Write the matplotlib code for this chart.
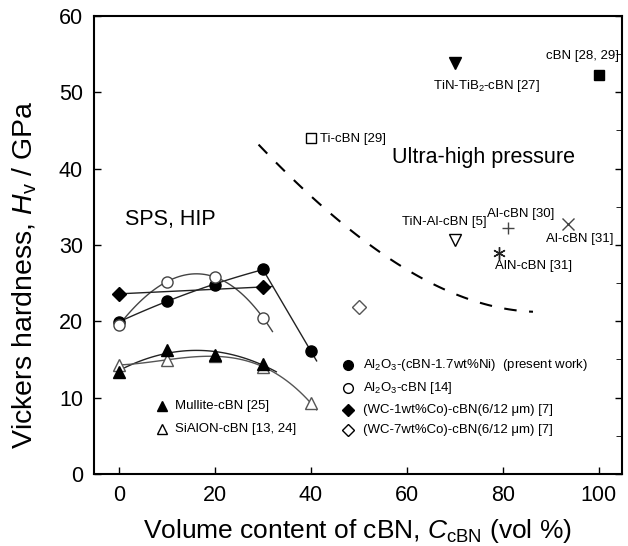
import numpy as np
import matplotlib
matplotlib.use('Agg')
import matplotlib.pyplot as plt

plt.rcParams['font.family'] = ['Liberation Sans', 'DejaVu Sans']
plt.rcParams['mathtext.fontset'] = 'custom'
plt.rcParams['mathtext.rm'] = 'Liberation Sans'
plt.rcParams['mathtext.it'] = 'Liberation Sans:italic'

# SPS / HIP series (vol% cBN, Hv GPa)
x_ni = [0, 10, 20, 30, 40]
y_ni = [19.9, 22.7, 24.8, 26.8, 16.1]
x_al = [0, 10, 20, 30]
y_al = [19.5, 25.2, 25.8, 20.5]
x_wc1 = [0, 30]
y_wc1 = [23.6, 24.5]
x_wc7 = [50]
y_wc7 = [21.9]
x_mul = [0, 10, 20, 30]
y_mul = [13.4, 16.25, 15.6, 14.4]
x_sia = [0, 10, 20, 30, 40]
y_sia = [14.3, 14.9, 15.5, 14.0, 9.3]

# ultra-high pressure points
uhp_names = ['TiN-TiB2', 'cBN', 'Ti-cBN', 'TiN-Al', 'Al30', 'Al31', 'AlN']
uhp_x = [70, 100, 40, 70, 81, 93.6, 79.2]
uhp_y = [53.8, 52.3, 44.0, 30.6, 32.2, 32.7, 29.0]

# boundary (dashed)
bnd_x = [29.1, 38.7, 47.9, 57.9, 69.6, 77.9, 86.3]
bnd_y = [43.1, 37.3, 32.1, 27.5, 23.7, 22.1, 21.2]

fig = plt.figure(figsize=(6.28, 5.46), dpi=100)
ax = fig.add_axes([0.1497, 0.1319, 0.8403, 0.8388])

ms = 8
# fitted curves
xx = np.linspace(0, 30, 60)
ax.plot(xx, np.polyval(np.polyfit(x_ni[:4], y_ni[:4], 2), xx), color='#222', lw=1)
p = np.polyfit(x_ni[3:], y_ni[3:], 1)
xx = np.linspace(30, 41.2, 10)
ax.plot(xx, np.polyval(p, xx), color='#222', lw=1)
xx = np.linspace(0, 32, 60)
ax.plot(xx, np.polyval(np.polyfit(x_al, y_al, 3), xx), color='#444', lw=1)
ax.plot(xx, np.polyval(np.polyfit(x_wc1, y_wc1, 1), xx), color='#222', lw=1)
xx = np.linspace(0, 32.8, 60)
ax.plot(xx, np.polyval(np.polyfit(x_mul, y_mul, 2), xx), color='#222', lw=1)
xx = np.linspace(0, 41.2, 60)
ax.plot(xx, np.polyval(np.polyfit(x_sia, y_sia, 3), xx), color='#555', lw=1)
xx = np.linspace(bnd_x[0], bnd_x[-1], 80)
ax.plot(xx, np.polyval(np.polyfit(bnd_x, bnd_y, 3), xx), color='k', lw=1.5,
        dashes=(6, 6))

# markers
ax.plot(x_ni, y_ni, 'o', ms=ms, mfc='k', mec='k', zorder=5)
ax.plot(x_al, y_al, 'o', ms=ms, mfc='white', mec='#444', zorder=5)
ax.plot(x_wc1, y_wc1, 'D', ms=7, mfc='k', mec='k', zorder=5)
ax.plot(x_wc7, y_wc7, 'D', ms=7, mfc='white', mec='#555', zorder=5)
ax.plot(x_mul, y_mul, '^', ms=ms, mfc='k', mec='k', zorder=5)
ax.plot(x_sia, y_sia, '^', ms=ms, mfc='white', mec='#555', zorder=4)

mk = ['v', 's', 's', 'v', '+', 'x', '*']
fill = ['k', 'k', 'white', 'white', 'k', 'k', 'k']
size = [9, 7, 7, 9, 8, 9, 9]
for i in range(len(uhp_x)):
    if mk[i] in ['+', 'x']:
        ax.plot(uhp_x[i], uhp_y[i], mk[i], ms=size[i], color='#444', mew=1)
    elif mk[i] == '*':
        ax.plot(uhp_x[i], uhp_y[i], marker=(6, 2, 0), ms=size[i], color='#222', mew=1)
    else:
        ax.plot(uhp_x[i], uhp_y[i], mk[i], ms=size[i], mfc=fill[i], mec='k')

fs = 9.5
ax.text(76.6, 50.8, 'TiN-TiB$_2$-cBN [27]', fontsize=fs, ha='center', va='center')
ax.text(104.3, 54.7, 'cBN [28, 29]', fontsize=fs, ha='right', va='center')
ax.text(42.0, 43.9, 'Ti-cBN [29]', fontsize=fs, ha='left', va='center')
ax.text(56.9, 41.4, 'Ultra-high pressure', fontsize=15.5, ha='left', va='center')
ax.text(1.3, 33.4, 'SPS, HIP', fontsize=15.5, ha='left', va='center')
ax.text(59.1, 33.0, 'TiN-Al-cBN [5]', fontsize=fs, ha='left', va='center')
ax.text(76.7, 34.0, 'Al-cBN [30]', fontsize=fs, ha='left', va='center')
ax.text(89.0, 30.8, 'Al-cBN [31]', fontsize=fs, ha='left', va='center')
ax.text(78.4, 27.3, 'AlN-cBN [31]', fontsize=fs, ha='left', va='center')

# hand-placed legend entries (right block)
leg_y = [14.3, 11.3, 8.4, 5.8]
leg_m = ['o', 'o', 'D', 'D']
leg_f = ['k', 'white', 'k', 'white']
leg_t = ['Al$_2$O$_3$-(cBN-1.7wt%Ni)  (present work)',
         'Al$_2$O$_3$-cBN [14]',
         '(WC-1wt%Co)-cBN(6/12 \u03bcm) [7]',
         '(WC-7wt%Co)-cBN(6/12 \u03bcm) [7]']
for yv, m, f, t in zip(leg_y, leg_m, leg_f, leg_t):
    ax.plot(47.7, yv, m, ms=7 if m == 'o' else 6, mfc=f, mec='k')
    ax.text(50.8, yv, t, fontsize=fs, ha='left', va='center')

# left block
ax.plot(8.9, 8.95, '^', ms=7, mfc='k', mec='k')
ax.text(11.7, 8.95, 'Mullite-cBN [25]', fontsize=fs, ha='left', va='center')
ax.plot(8.9, 5.9, '^', ms=7, mfc='white', mec='k')
ax.text(11.7, 5.9, 'SiAlON-cBN [13, 24]', fontsize=fs, ha='left', va='center')

ax.set_xlim(-5.2, 104.8)
ax.set_ylim(0, 60)
ax.set_xticks([0, 20, 40, 60, 80, 100])
ax.set_yticks([0, 10, 20, 30, 40, 50, 60])
ax.tick_params(direction='in', labelsize=15.5, length=5, width=1, pad=8)
ax.set_yticks(np.arange(0, 61, 5), minor=True)
ax.tick_params(axis='y', which='minor', left=False, right=True, direction='in', length=4)
ax.tick_params(axis='y', which='major', right=True)
for s in ax.spines.values():
    s.set_linewidth(1.5)

ax.set_xlabel('Volume content of cBN, $C_\\mathrm{cBN}$ (vol %)', fontsize=19, labelpad=8)
ax.set_ylabel('Vickers hardness, $H_\\mathrm{v}$ / GPa', fontsize=20.5)
ax.yaxis.set_label_coords(-0.104, 0.435)

fig.savefig('out.png', dpi=100)
